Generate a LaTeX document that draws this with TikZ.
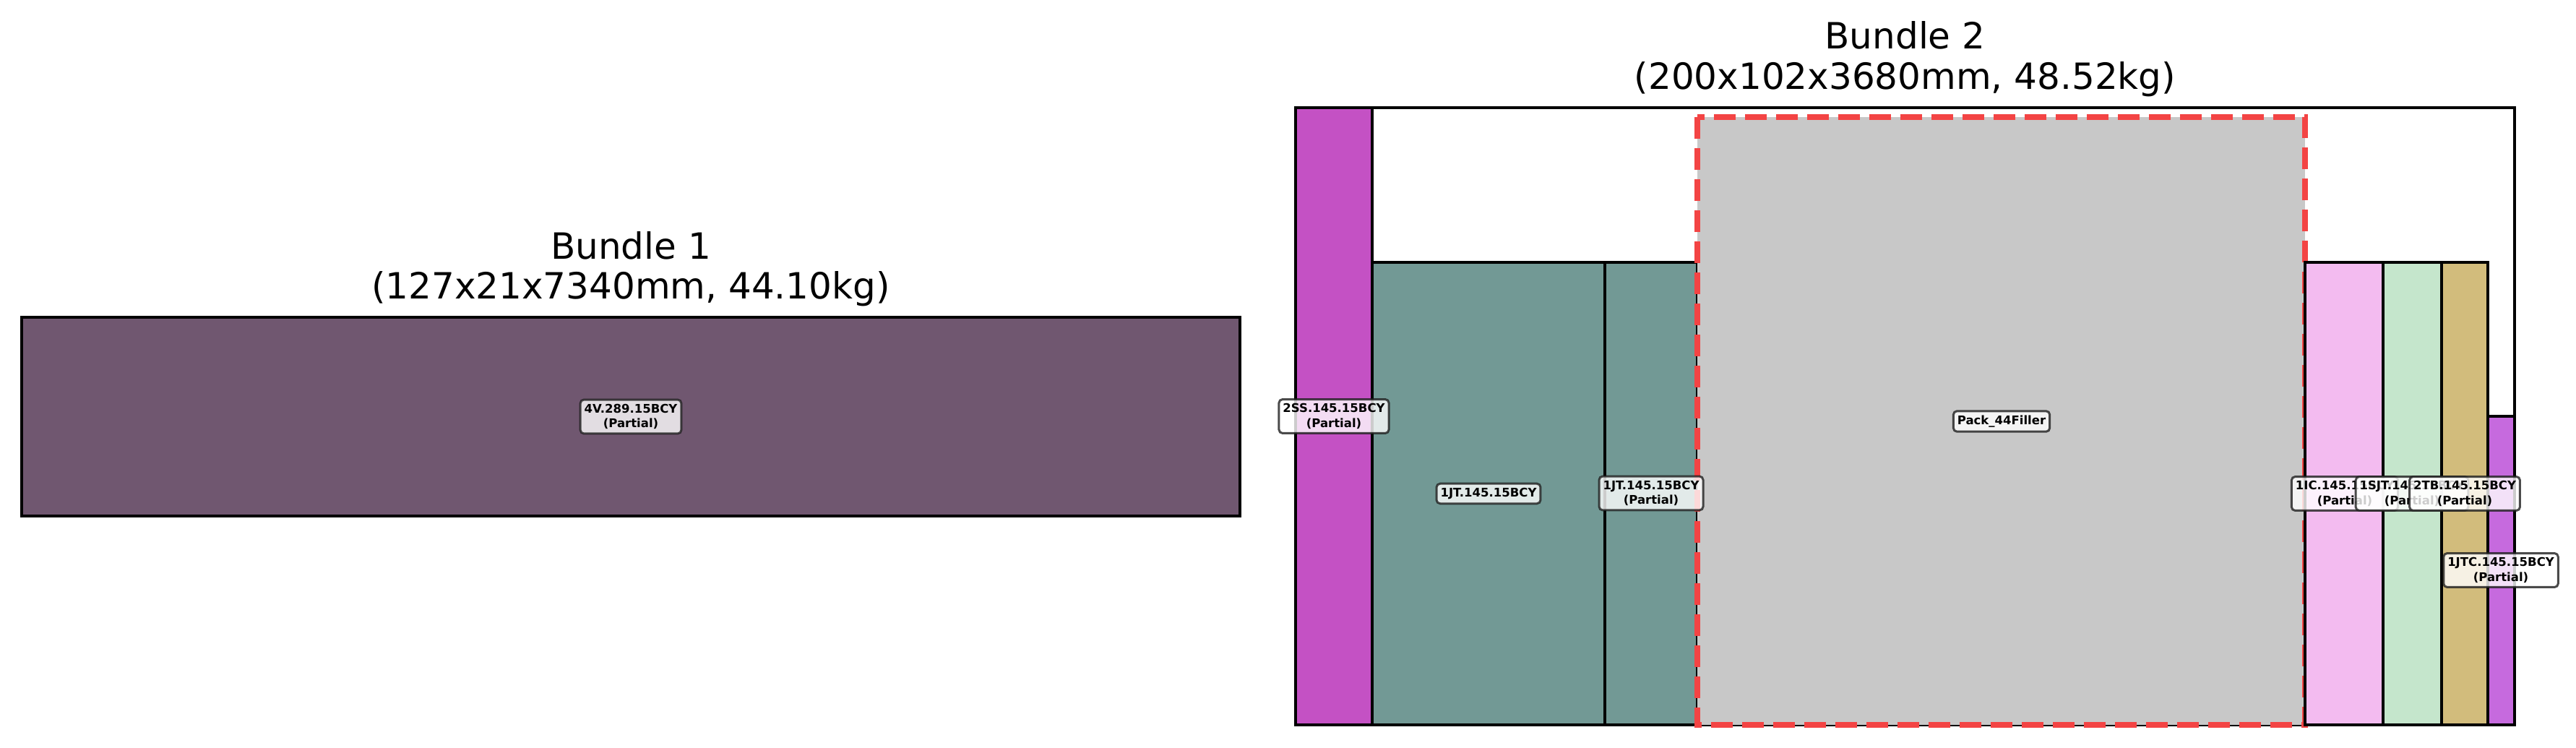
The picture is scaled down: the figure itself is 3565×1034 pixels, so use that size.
\documentclass[tikz,border=0pt]{standalone}
\usepackage{fontspec}
\setmainfont{DejaVu Sans}
\definecolor{bonepurple}{RGB}{112,87,112}
\definecolor{ssmag}{RGB}{196,81,196}
\definecolor{jtteal}{RGB}{114,153,149}
\definecolor{fillgray}{RGB}{200,200,200}
\definecolor{dashred}{RGB}{243,68,68}
\definecolor{icpink}{RGB}{243,187,240}
\definecolor{sjtgreen}{RGB}{197,230,204}
\definecolor{tbtan}{RGB}{210,188,124}
\definecolor{jtcpurple}{RGB}{198,106,222}
\definecolor{tagedge}{RGB}{30,30,30}
\begin{document}
\begin{tikzpicture}[x=1pt,y=-1pt,
  piece/.style={draw=black, line width=4pt},
  outerbox/.style={draw=black, line width=3.3pt},
  fillerbox/.style={fill=fillgray, draw=dashred, line width=7.5pt, dash pattern=on 30pt off 13pt},
  tag/.style={draw=tagedge, line width=3pt, rounded corners=5pt, fill=white, fill opacity=0.8, draw opacity=0.8, text opacity=1, align=center, font=\fontsize{16.5}{20.5}\selectfont\bfseries, inner xsep=5.5pt, inner ysep=6pt},
  titletext/.style={font=\fontsize{50}{55}\selectfont, anchor=base, inner sep=0pt}]
\useasboundingbox (0,0) rectangle (3565,1034);
% Bundle 1
\draw[line width=3.5pt, fill=bonepurple] (30,439) rectangle (1716,714);
\node[titletext] (b1ta) at (873,358) {Bundle 1};
\node[titletext] (b1tb) at (873,413) {(127x21x7340mm, 44.10kg)};
\node[tag] (l4v) at (873,576.5) {4V.289.15BCY\\(Partial)};
% Bundle 2
\draw[outerbox] (1793,149) rectangle (3480,1003);
\draw[piece, fill=ssmag] (1793,149) rectangle (1898.5,1003);
\draw[piece, fill=jtteal] (1898.5,362.5) rectangle (2221,1003);
\draw[piece, fill=jtteal] (2221,362.5) rectangle (2349,1003);
\draw[fillerbox] (2349,162) rectangle (3190,1003);
\draw[piece, fill=icpink] (3190,362.5) rectangle (3298,1003);
\draw[piece, fill=sjtgreen] (3298,362.5) rectangle (3379,1003);
\draw[piece, fill=tbtan] (3379,362.5) rectangle (3442.7,1003);
\draw[piece, fill=jtcpurple] (3442.7,576) rectangle (3480,1003);
\node[titletext] (b2ta) at (2636.5,67.7) {Bundle 2};
\node[titletext] (b2tb) at (2636.5,123) {(200x102x3680mm, 48.52kg)};
\node[tag] (lss) at (1846,576) {2SS.145.15BCY\\(Partial)};
\node[tag] (ljt) at (2060,683) {1JT.145.15BCY};
\node[tag] (ljtp) at (2285,682.5) {1JT.145.15BCY\\(Partial)};
\node[tag] (lpack) at (2770,583) {Pack\_44Filler};
\node[tag] (lic) at (3245,683) {1IC.145.15BCY\\(Partial)};
\node[tag] (lsjt) at (3338,683) {1SJT.145.15BCY\\(Partial)};
\node[tag] (ltb) at (3411,683) {2TB.145.15BCY\\(Partial)};
\node[tag] (ljtc) at (3461,789) {1JTC.145.15BCY\\(Partial)};
\end{tikzpicture}
\end{document}
